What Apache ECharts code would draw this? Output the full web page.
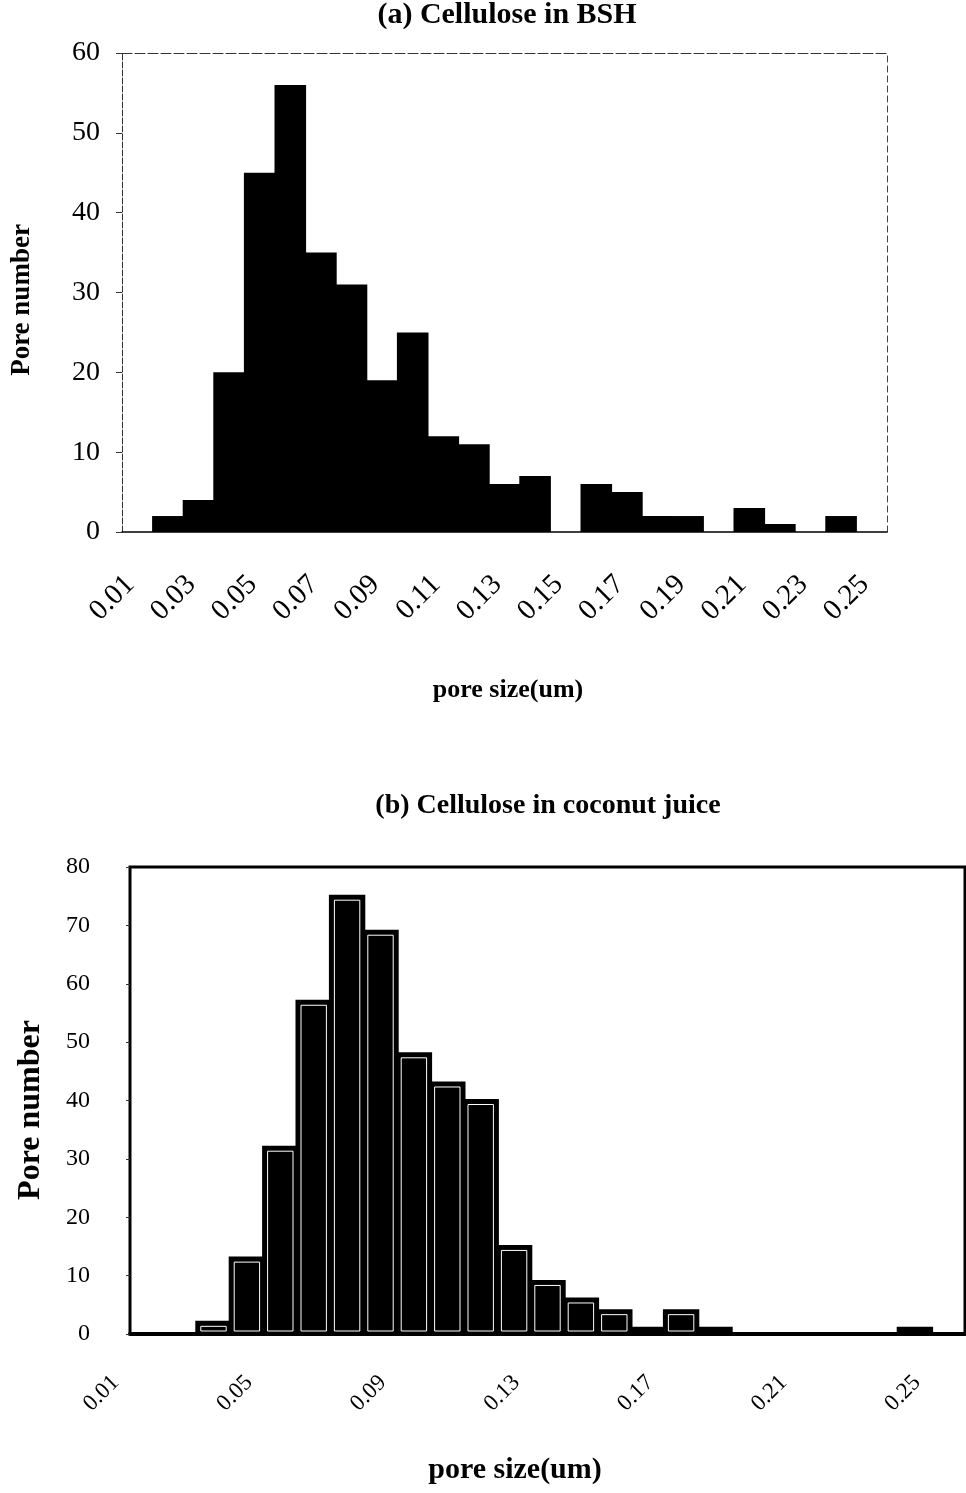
<!DOCTYPE html>
<html>
<head>
<meta charset="utf-8">
<title>Pore size distribution</title>
<script src="https://cdn.jsdelivr.net/npm/echarts@6/dist/echarts.min.js"></script>
<style>
  html, body { margin: 0; padding: 0; background: #fff; }
  #chart { width: 966px; height: 1493px; }
</style>
</head>
<body>
<div id="chart"></div>
<script>
// pore size bins (um), one category per bin
const poreSizes = ['0.01', '0.02', '0.03', '0.04', '0.05', '0.06', '0.07', '0.08', '0.09', '0.10',
    '0.11', '0.12', '0.13', '0.14', '0.15', '0.16', '0.17', '0.18', '0.19', '0.20',
    '0.21', '0.22', '0.23', '0.24', '0.25'];

// (a) cellulose in BSH
const bshCounts = [0, 2, 4, 20, 45, 56, 35, 31, 19, 25, 12, 11, 6, 7, 0, 6, 5, 2, 2, 0, 3, 1, 0, 2, 0];

// (b) cellulose in coconut juice
const coconutCounts = [0, 0, 2, 13, 32, 57, 75, 69, 48, 43, 40, 15, 9, 6, 4, 1, 4, 1, 0, 0, 0, 0, 0, 1, 0];

// y axis ranges
const bshMax = 60;
const coconutMax = 80;
const countStep = 10;

const serif = '"Liberation Serif", "DejaVu Serif", serif';

// plain solid bar for panel (a); drawn a little wider so neighbours merge
function solidBar(params, api) {
    const val = api.value(1);
    if (!val) return;
    const top = api.coord([api.value(0), val]);
    const base = api.coord([api.value(0), 0]);
    const w = api.size([1, 0])[0];
    return {
        type: 'rect',
        shape: { x: top[0] - w / 2 - 0.5, y: top[1], width: w + 1, height: base[1] - top[1] },
        style: { fill: '#000' }
    };
}

// black bar with the thin white inner outline seen in panel (b)
function outlinedBar(params, api) {
    const val = api.value(1);
    if (!val) return;
    const top = api.coord([api.value(0), val]);
    const base = api.coord([api.value(0), 0]);
    const w = api.size([1, 0])[0];
    const x = top[0] - w / 2;
    const h = base[1] - top[1];
    const children = [{
        type: 'rect',
        shape: { x: x, y: top[1], width: w, height: h },
        style: { fill: '#000', stroke: '#000', lineWidth: 3 }
    }];
    if (h > 10) {
        children.push({
            type: 'rect',
            shape: { x: x + 4, y: top[1] + 4, width: w - 8, height: h - 7 },
            style: { fill: 'none', stroke: '#fff', lineWidth: 1 }
        });
    }
    return { type: 'group', children: children };
}

function label(text, x, y, size, rotation) {
    return {
        type: 'text',
        x: x,
        y: y,
        rotation: rotation || 0,
        style: {
            text: text,
            font: 'bold ' + size + 'px ' + serif,
            fill: '#000',
            align: 'center',
            verticalAlign: 'middle'
        }
    };
}

const chart = echarts.init(document.getElementById('chart'));

const option = {
    backgroundColor: '#fff',
    animation: false,
    textStyle: { fontFamily: serif, color: '#000' },
    grid: [
        { left: 122, top: 53, width: 765, height: 479 },
        { left: 130, top: 867, width: 835, height: 467, show: true, borderColor: '#000', borderWidth: 3 }
    ],
    xAxis: [
        {
            gridIndex: 0,
            type: 'category',
            data: poreSizes,
            axisLine: { lineStyle: { color: '#000', width: 1.5 } },
            axisTick: { interval: 0, length: 9, lineStyle: { color: '#000' } },
            axisLabel: {
                interval: 1, rotate: 45, margin: 41, padding: [0, 10, 0, 0],
                fontSize: 29, color: '#000', fontFamily: serif
            }
        },
        {
            gridIndex: 0,
            type: 'category',
            position: 'top',
            data: poreSizes,
            axisLine: { onZero: false, lineStyle: { color: '#333', width: 1, type: [10, 3] } },
            axisTick: { show: false },
            axisLabel: { show: false }
        },
        {
            gridIndex: 1,
            type: 'category',
            data: poreSizes,
            axisLine: { lineStyle: { color: '#000', width: 4 } },
            axisTick: { interval: 0, length: 5, lineStyle: { color: '#000' } },
            axisLabel: {
                interval: 3, rotate: 45, margin: 14, padding: [0, 44, 0, 0],
                fontSize: 23, color: '#000', fontFamily: serif
            }
        }
    ],
    yAxis: [
        {
            gridIndex: 0,
            type: 'value',
            min: 0,
            max: bshMax,
            interval: countStep,
            axisLine: { show: true, lineStyle: { color: '#333', width: 1, type: [6, 2] } },
            axisTick: { show: true, length: 6, lineStyle: { color: '#333' } },
            axisLabel: { margin: 22, fontSize: 28, color: '#000', fontFamily: serif },
            splitLine: { show: false }
        },
        {
            gridIndex: 0,
            type: 'value',
            position: 'right',
            min: 0,
            max: bshMax,
            interval: countStep,
            axisLine: { show: true, onZero: false, lineStyle: { color: '#444', width: 1, type: [6, 4] } },
            axisTick: { show: false },
            axisLabel: { show: false },
            splitLine: { show: false }
        },
        {
            gridIndex: 1,
            type: 'value',
            min: 0,
            max: coconutMax,
            interval: countStep,
            axisLine: { show: false },
            axisTick: { show: true, length: 4, lineStyle: { color: '#333' } },
            axisLabel: { margin: 40, fontSize: 24, color: '#000', fontFamily: serif },
            splitLine: { show: false }
        }
    ],
    series: [
        {
            name: 'Cellulose in BSH',
            type: 'custom',
            xAxisIndex: 0,
            yAxisIndex: 0,
            renderItem: solidBar,
            data: bshCounts.map(function (v, i) { return [i, v]; })
        },
        {
            name: 'Cellulose in coconut juice',
            type: 'custom',
            xAxisIndex: 2,
            yAxisIndex: 2,
            renderItem: outlinedBar,
            data: coconutCounts.map(function (v, i) { return [i, v]; })
        }
    ],
    graphic: [
        label('(a) Cellulose in BSH', 507, 15, 30),
        label('Pore number', 22, 300, 27, Math.PI / 2),
        label('pore size(um)', 508, 690, 26),
        label('(b) Cellulose in coconut juice', 548, 806, 28),
        label('Pore number', 31, 1110, 32, Math.PI / 2),
        label('pore size(um)', 515, 1470, 30)
    ]
};

chart.setOption(option);
</script>
</body>
</html>
